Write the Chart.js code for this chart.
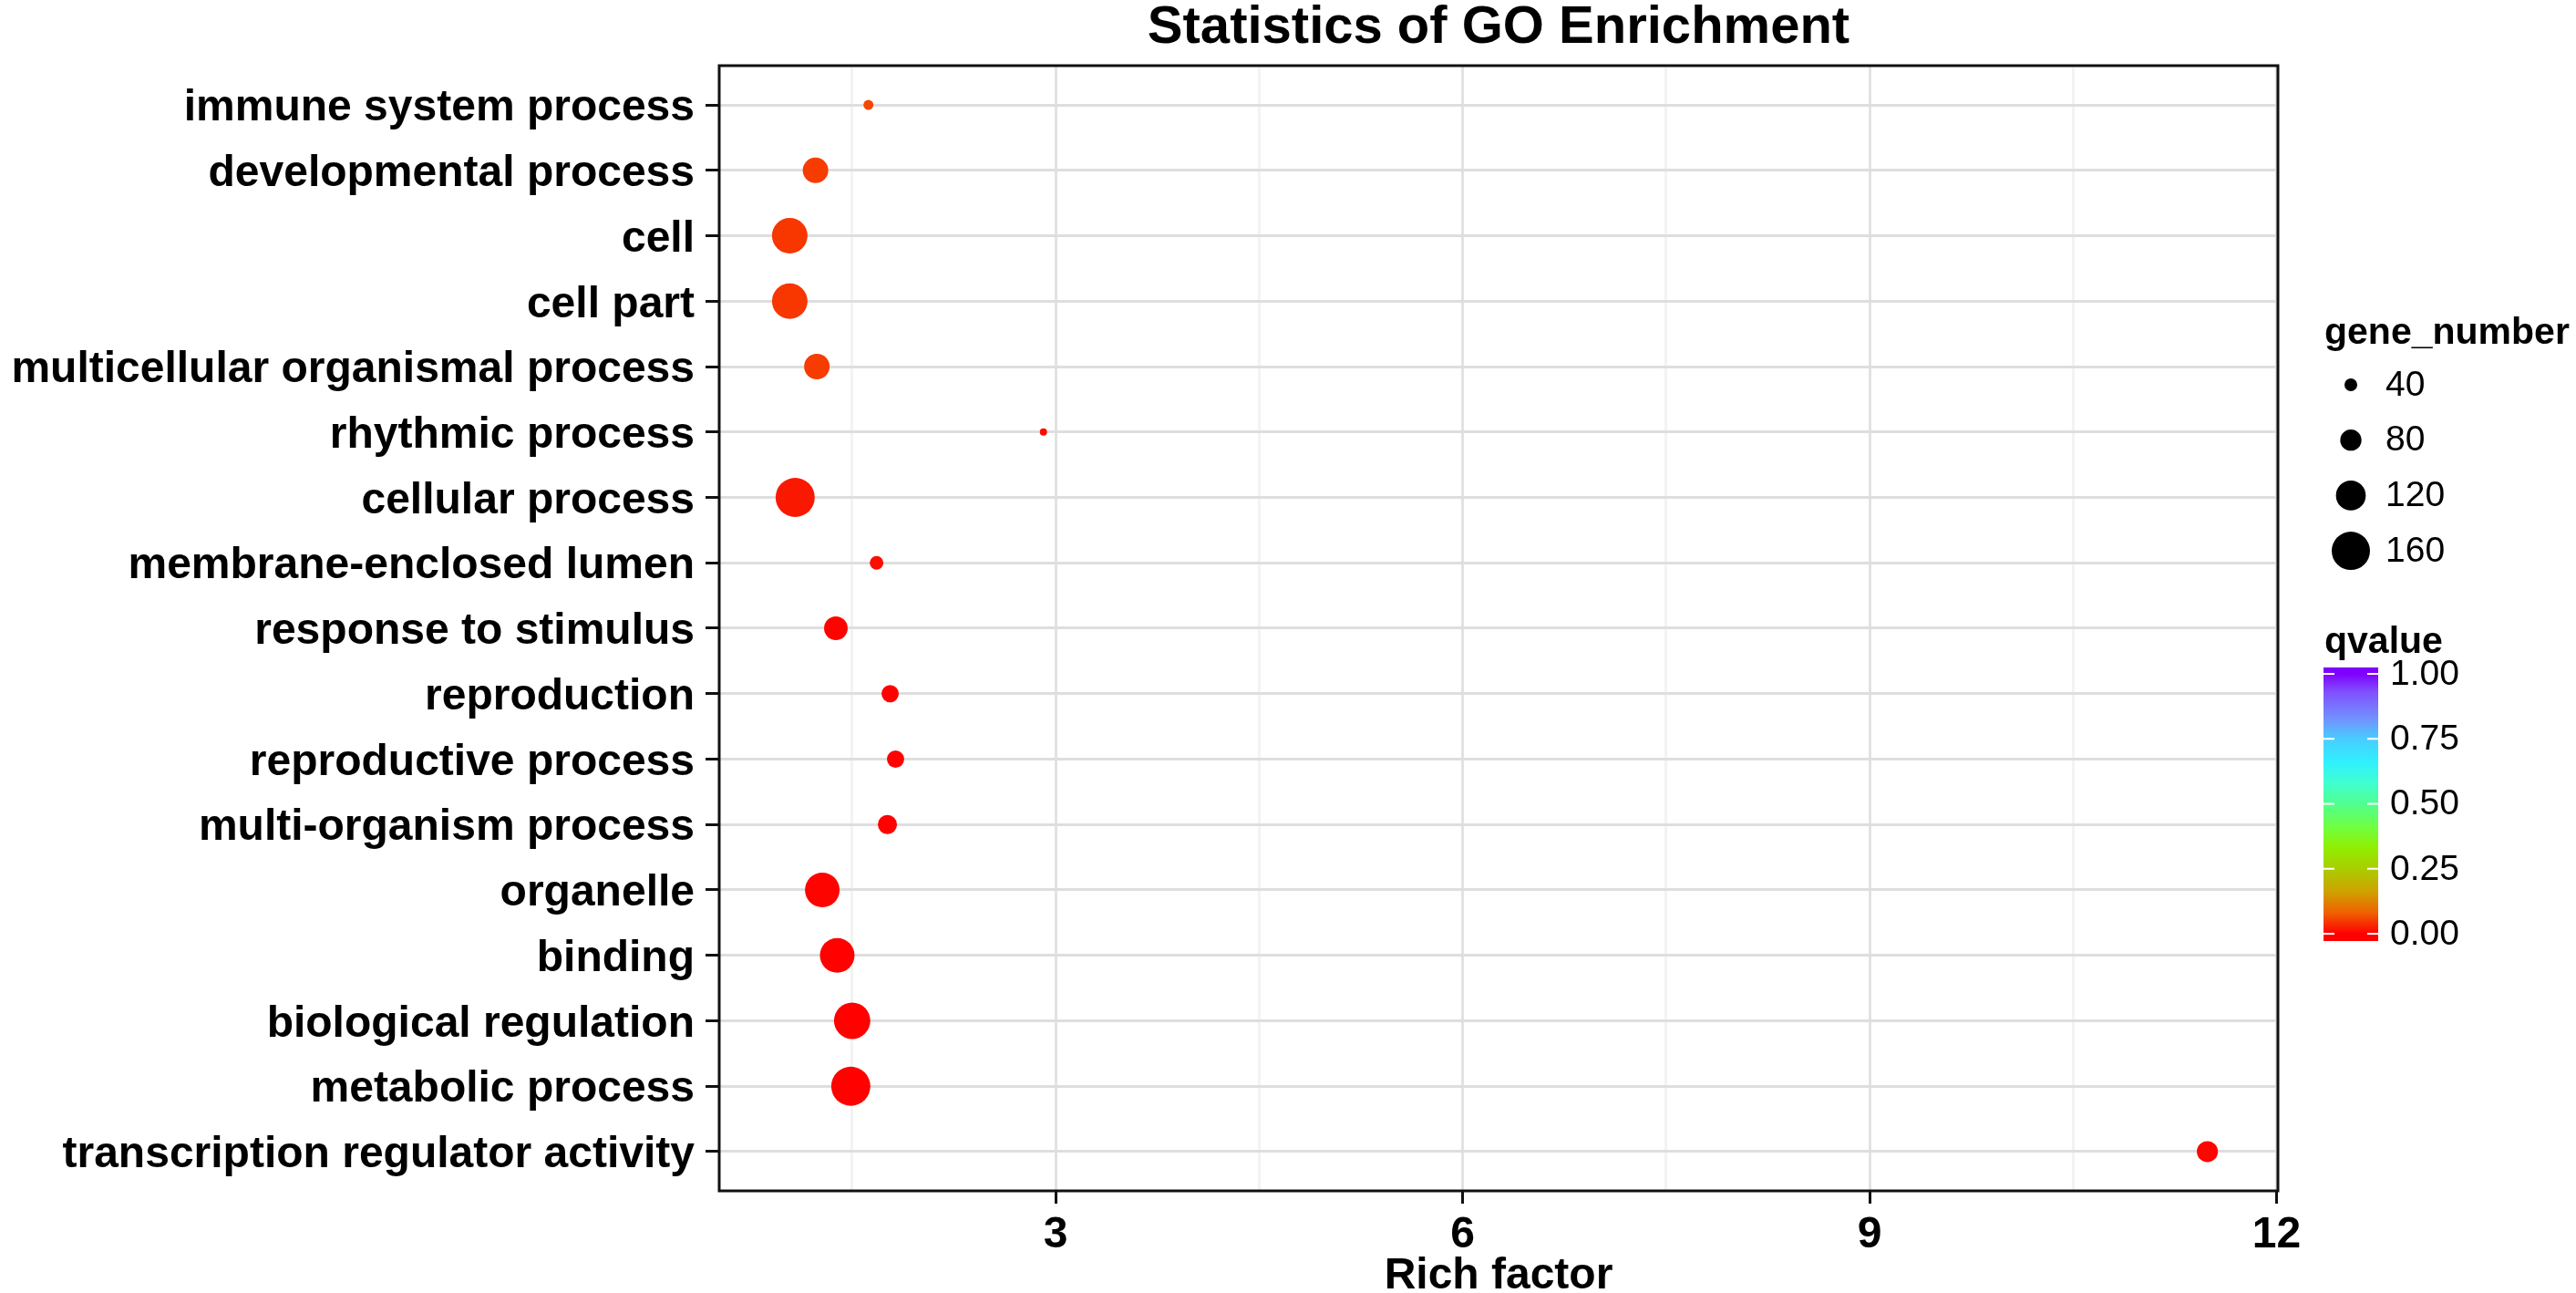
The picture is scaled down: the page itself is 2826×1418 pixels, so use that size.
<!DOCTYPE html>
<html>
<head>
<meta charset="utf-8">
<title>Statistics of GO Enrichment</title>
<script src="https://cdn.jsdelivr.net/npm/chart.js@4.4.1/dist/chart.umd.min.js"></script>
<style>
    html, body { margin: 0; padding: 0; background: #fff; }
    canvas { display: block; }
</style>
</head>
<body>
<canvas id="chart" width="2826" height="1418" style="width:2826px;height:1418px"></canvas>
<script>
// GO terms, top to bottom
const categories = [
    'immune system process',
    'developmental process',
    'cell',
    'cell part',
    'multicellular organismal process',
    'rhythmic process',
    'cellular process',
    'membrane-enclosed lumen',
    'response to stimulus',
    'reproduction',
    'reproductive process',
    'multi-organism process',
    'organelle',
    'binding',
    'biological regulation',
    'metabolic process',
    'transcription regulator activity',
];
const richFactor = [1.62, 1.23, 1.04, 1.04, 1.24, 2.91, 1.08, 1.68, 1.38, 1.78, 1.82, 1.76, 1.28, 1.39, 1.50, 1.49, 11.49];
const geneNumber = [27, 100, 147, 147, 100, 14, 164, 44, 91, 61, 61, 70, 143, 143, 151, 164, 79];
const qvalue = [0.06, 0.05, 0.045, 0.045, 0.05, 0.01, 0.02, 0.01, 0.003, 0.002, 0.002, 0.002, 0.003, 0.002, 0.002, 0.002, 0.004];

const xMajorTicks = [3, 6, 9, 12];
const xMinorTicks = [1.5, 4.5, 7.5, 10.5];
const sizeBreaks = [40, 80, 120, 160];
const qBreaks = [0, 0.25, 0.5, 0.75, 1];

const FONT = "'Liberation Sans', Arial, Helvetica, sans-serif";

// rainbow-ish colourbar, red at 0 -> violet at 1
const qStops = [
    [0.00, [255, 0, 0]],
    [0.08, [240, 96, 0]],
    [0.16, [208, 160, 0]],
    [0.25, [170, 205, 0]],
    [0.33, [145, 238, 0]],
    [0.41, [112, 255, 64]],
    [0.50, [80, 255, 144]],
    [0.58, [64, 255, 208]],
    [0.66, [48, 240, 255]],
    [0.75, [72, 205, 255]],
    [0.82, [112, 150, 255]],
    [0.93, [128, 80, 255]],
    [1.00, [128, 0, 255]],
];

function qColor(q) {
    for (let i = 1; i < qStops.length; i++) {
        const [p1, c1] = qStops[i];
        if (q <= p1) {
            const [p0, c0] = qStops[i - 1];
            const t = (q - p0) / (p1 - p0);
            const c = c0.map((v, k) => Math.round(v + (c1[k] - v) * t));
            return `rgb(${c[0]},${c[1]},${c[2]})`;
        }
    }
    return 'rgb(128,0,255)';
}

function dotDiameter(n) {
    return 14 + (n - 40) * 0.2333;
}

const points = categories.map((c, i) => ({
    x: richFactor[i],
    y: i,
    r: dotDiameter(geneNumber[i]) / 2,
}));

const panelAndLegend = {
    id: 'panelAndLegend',
    afterDraw(chart) {
        const { ctx, chartArea } = chart;
        const { left, right, top, bottom } = chartArea;
        ctx.save();

        // panel border
        ctx.strokeStyle = '#111';
        ctx.lineWidth = 3;
        ctx.strokeRect(left, top, right - left, bottom - top);

        // title centred over the panel
        ctx.fillStyle = '#000';
        ctx.font = `bold 58px ${FONT}`;
        ctx.textAlign = 'center';
        ctx.textBaseline = 'alphabetic';
        ctx.fillText('Statistics of GO Enrichment', (left + right) / 2, 47);

        // gene_number legend
        ctx.textAlign = 'left';
        ctx.font = `bold 41px ${FONT}`;
        ctx.fillText('gene_number', 2550, 377);
        ctx.font = `39px ${FONT}`;
        ctx.textBaseline = 'middle';
        sizeBreaks.forEach((n, i) => {
            const y = 422 + i * 60.7;
            ctx.beginPath();
            ctx.arc(2579, y, dotDiameter(n) / 2, 0, Math.PI * 2);
            ctx.fill();
            ctx.fillText(String(n), 2617, y + 1);
        });

        // qvalue colourbar
        ctx.textBaseline = 'alphabetic';
        ctx.font = `bold 41px ${FONT}`;
        ctx.fillText('qvalue', 2550, 716);

        const barL = 2549, barR = 2609, barT = 732, barB = 1032;
        const y0 = 1024, y1 = 739;
        const grad = ctx.createLinearGradient(0, y0, 0, y1);
        qStops.forEach(([p]) => grad.addColorStop(p, qColor(p)));
        ctx.fillStyle = grad;
        ctx.fillRect(barL, barT, barR - barL, barB - barT);

        ctx.strokeStyle = '#fff';
        ctx.lineWidth = 2;
        ctx.fillStyle = '#000';
        ctx.font = `39px ${FONT}`;
        ctx.textBaseline = 'middle';
        qBreaks.forEach(q => {
            const y = y0 + (y1 - y0) * q;
            ctx.beginPath();
            ctx.moveTo(barL, y); ctx.lineTo(barL + 12, y);
            ctx.moveTo(barR - 12, y); ctx.lineTo(barR, y);
            ctx.stroke();
            ctx.fillText(q.toFixed(2), 2622, y + 1);
        });

        ctx.restore();
    },
};

const isMajor = v => xMajorTicks.includes(v);

new Chart(document.getElementById('chart'), {
    type: 'bubble',
    data: {
        datasets: [{
            data: points,
            backgroundColor: ctx => qColor(qvalue[ctx.dataIndex]),
            borderWidth: 0,
            hoverBorderWidth: 0,
        }],
    },
    options: {
        responsive: false,
        devicePixelRatio: 1,
        animation: false,
        events: [],
        layout: { padding: { left: 0, right: 327, top: 72, bottom: 0 } },
        plugins: {
            legend: { display: false },
            tooltip: { enabled: false },
        },
        scales: {
            x: {
                type: 'linear',
                min: 0.52,
                max: 12.01,
                afterBuildTicks: scale => {
                    scale.ticks = [...xMinorTicks, ...xMajorTicks].sort((a, b) => a - b).map(v => ({ value: v }));
                },
                afterFit: scale => { scale.height = 112; },
                border: { display: false },
                grid: {
                    color: ctx => (ctx.tick && isMajor(ctx.tick.value) ? '#e2e2e2' : '#f3f3f3'),
                    lineWidth: 3,
                    tickColor: ctx => (ctx.tick && isMajor(ctx.tick.value) ? '#111' : 'rgba(0,0,0,0)'),
                    tickLength: 14,
                    tickWidth: 3,
                },
                ticks: {
                    autoSkip: false,
                    maxRotation: 0,
                    padding: 6,
                    color: '#000',
                    font: { family: FONT, size: 48, weight: 'bold' },
                    callback: v => (isMajor(v) ? String(v) : ''),
                },
                title: {
                    display: true,
                    text: 'Rich factor',
                    color: '#000',
                    font: { family: FONT, size: 48, weight: 'bold', lineHeight: 0.75 },
                    padding: { top: 0, bottom: 0 },
                },
            },
            y: {
                type: 'linear',
                reverse: true,
                min: -0.6,
                max: categories.length - 0.4,
                afterBuildTicks: scale => {
                    scale.ticks = categories.map((c, i) => ({ value: i }));
                },
                afterFit: scale => { scale.width = 789; },
                border: { display: false },
                grid: {
                    color: '#dedede',
                    lineWidth: 3,
                    tickColor: '#111',
                    tickLength: 15,
                    tickWidth: 3,
                },
                ticks: {
                    autoSkip: false,
                    padding: 12,
                    labelOffset: 4,
                    color: '#000',
                    font: { family: FONT, size: 48, weight: 'bold' },
                    callback: v => categories[v],
                },
            },
        },
    },
    plugins: [panelAndLegend],
});
</script>
</body>
</html>
